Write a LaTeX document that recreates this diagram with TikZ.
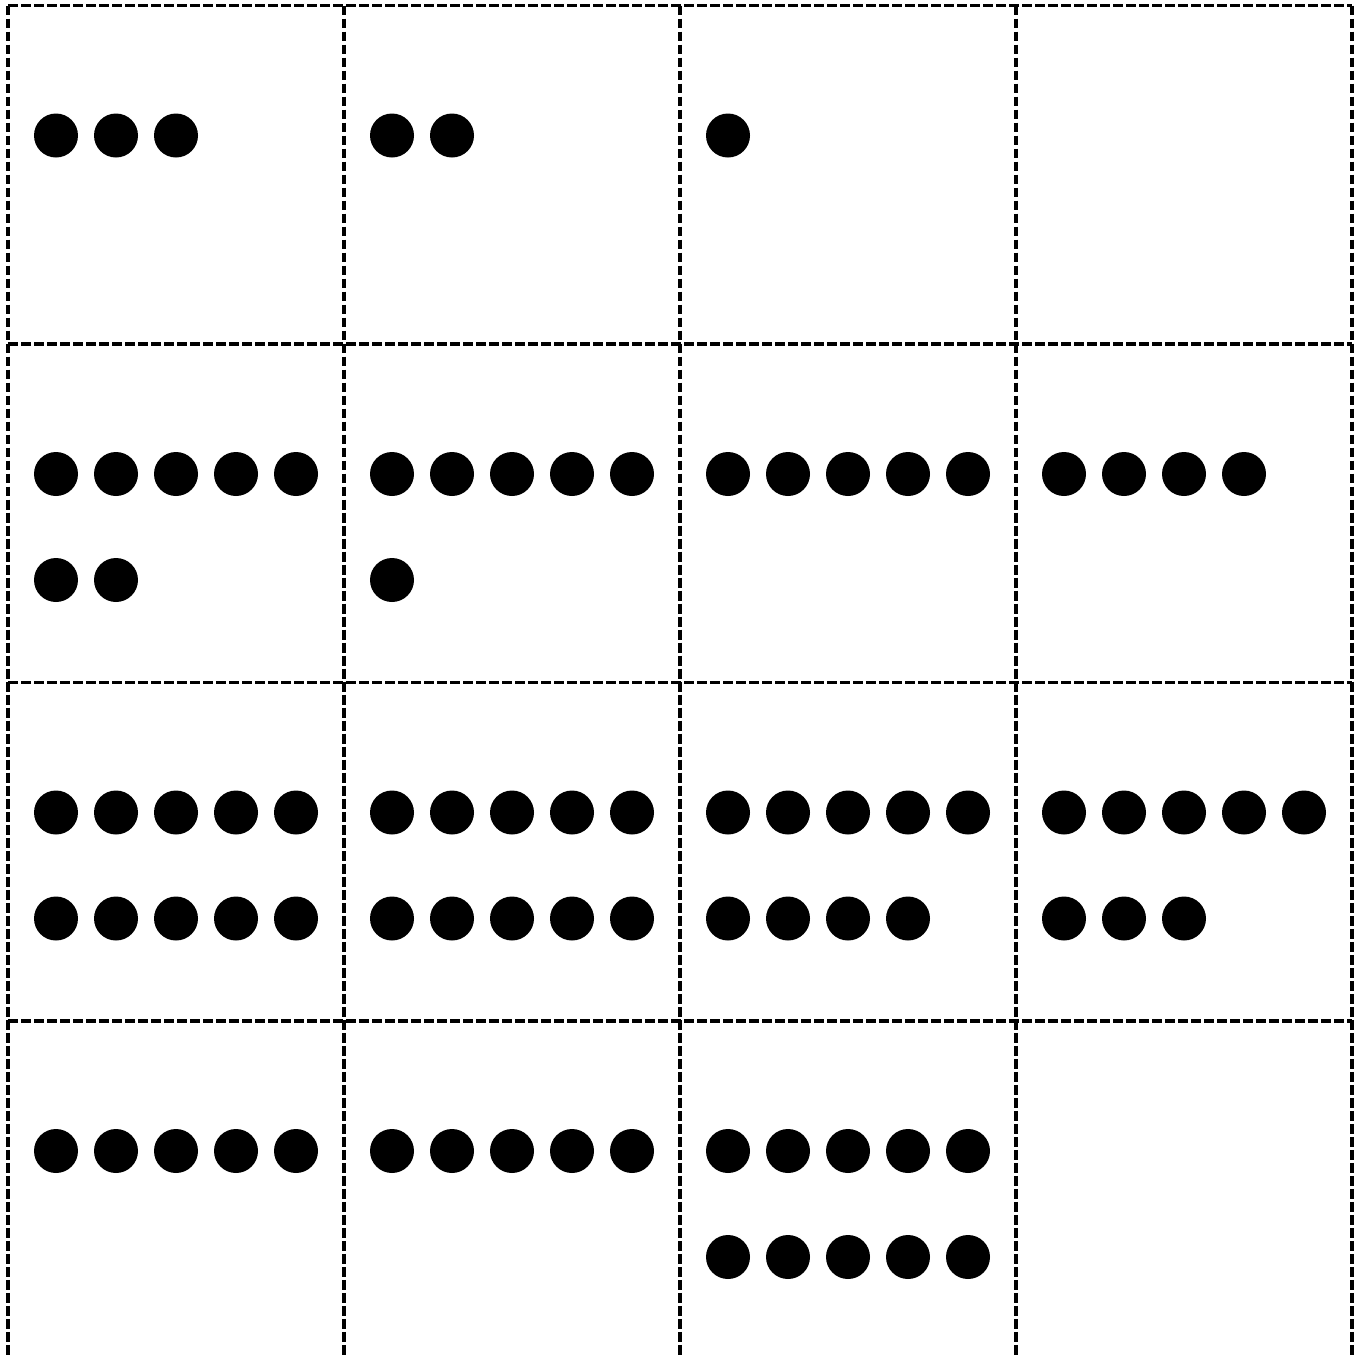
\documentclass[tikz,border=0pt]{standalone}
\begin{document}
\begin{tikzpicture}[x=1cm,y=1cm,
    grid line/.style={line width=1.1pt,dash pattern=on 2.8pt off 0.9pt},
    bead/.style={fill=black}]
  \useasboundingbox (0,0) rectangle (13.56,-13.56);
  %
  % dashed grid (bottom edge is cut off)
  \foreach \x in {0.08,3.44,6.80,10.16,13.52}
    \draw[grid line] (\x,-0.055) -- (\x,-13.56);
  \foreach \y in {-0.055,-3.44,-6.825,-10.21}
    \draw[grid line] (0.08,\y) -- (13.52,\y);
  %
  % beads: column/row/count, five to a line
  \foreach \c/\r/\n in {0/0/3,1/0/2,2/0/1,
                        0/1/7,1/1/6,2/1/5,3/1/4,
                        0/2/10,1/2/10,2/2/9,3/2/8,
                        0/3/5,1/3/5,2/3/10}
  {
    \begin{scope}[shift={(0.08+3.36*\c+0.48,-0.055-3.385*\r-1.30)}]
      \foreach \k in {1,...,\n} {
        \pgfmathtruncatemacro{\col}{mod(\k-1,5)}
        \pgfmathtruncatemacro{\line}{int((\k-1)/5)}
        \fill[bead] (0.60*\col,-1.06*\line) circle (0.22);
      }
    \end{scope}
  }
\end{tikzpicture}
\end{document}
